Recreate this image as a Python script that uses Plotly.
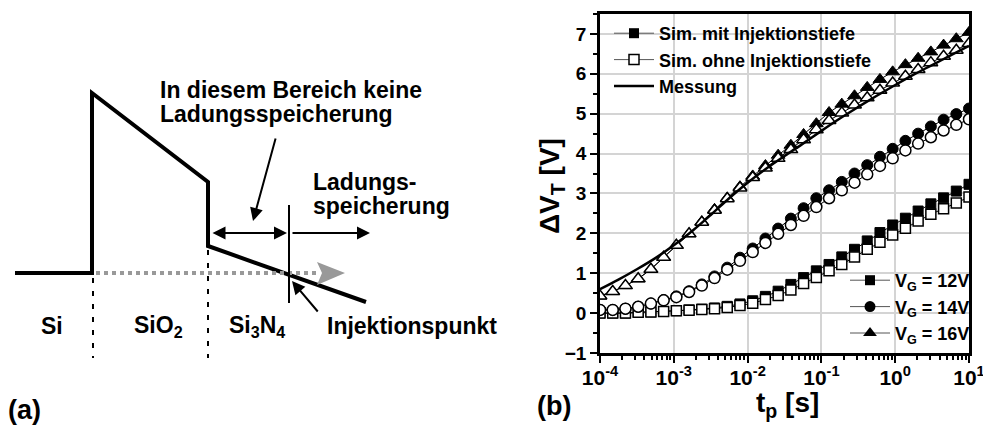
import plotly.graph_objects as go

# ---------------- data (right panel) ----------------
# programming times of the simulation samples [s]
t_sim = [1.000e-4, 1.487e-4, 2.212e-4, 3.291e-4, 4.895e-4, 7.280e-4,
         1.083e-3, 1.611e-3, 2.396e-3, 3.563e-3, 5.300e-3, 7.884e-3,
         1.173e-2, 1.744e-2, 2.594e-2, 3.859e-2, 5.739e-2, 8.537e-2,
         0.1270, 0.1889, 0.2809, 0.4178, 0.6215, 0.9244,
         1.375, 2.045, 3.042, 4.525, 6.730, 10.0]

# threshold voltage shift [V], simulation with / without injection depth
dvt_12_mit = [0.00, 0.00, 0.00, 0.02, 0.03, 0.04, 0.06, 0.08, 0.10, 0.13,
              0.17, 0.23, 0.31, 0.42, 0.55, 0.72, 0.89, 1.06, 1.22, 1.41,
              1.60, 1.81, 2.02, 2.21, 2.38, 2.56, 2.74, 2.89, 3.06, 3.23]
dvt_12_ohne = [0.00, 0.00, 0.00, 0.02, 0.03, 0.04, 0.06, 0.07, 0.09, 0.11,
               0.14, 0.19, 0.25, 0.34, 0.44, 0.58, 0.74, 0.89, 1.06, 1.22,
               1.41, 1.60, 1.78, 1.96, 2.13, 2.31, 2.48, 2.62, 2.76, 2.91]
dvt_14_mit = [0.08, 0.08, 0.11, 0.16, 0.24, 0.33, 0.42, 0.55, 0.72, 0.92,
              1.14, 1.39, 1.62, 1.87, 2.12, 2.37, 2.63, 2.88, 3.08, 3.29,
              3.50, 3.71, 3.92, 4.12, 4.32, 4.50, 4.68, 4.85, 4.99, 5.13]
dvt_14_ohne = [0.08, 0.08, 0.11, 0.16, 0.24, 0.32, 0.40, 0.53, 0.69, 0.88,
               1.09, 1.31, 1.53, 1.76, 1.99, 2.21, 2.44, 2.66, 2.88, 3.08,
               3.27, 3.48, 3.69, 3.88, 4.08, 4.25, 4.41, 4.58, 4.72, 4.86]
dvt_16_mit = [0.43, 0.54, 0.69, 0.86, 1.10, 1.40, 1.70, 1.99, 2.29, 2.60,
              2.89, 3.17, 3.44, 3.70, 3.96, 4.21, 4.48, 4.75, 5.03, 5.24,
              5.45, 5.66, 5.86, 6.05, 6.23, 6.39, 6.55, 6.72, 6.88, 7.04]
dvt_16_ohne = [0.43, 0.54, 0.69, 0.86, 1.10, 1.40, 1.70, 1.99, 2.28, 2.58,
               2.87, 3.14, 3.40, 3.64, 3.88, 4.10, 4.35, 4.60, 4.83, 5.02,
               5.22, 5.40, 5.59, 5.77, 5.94, 6.11, 6.28, 6.44, 6.59, 6.76]

# measurement at V_G = 16 V
t_mess = [1.000e-4, 1.778e-4, 3.162e-4, 5.623e-4, 1.000e-3, 1.778e-3,
          3.162e-3, 5.623e-3, 1.000e-2, 1.778e-2, 3.162e-2, 5.623e-2,
          0.1000, 0.1778, 0.3162, 0.5623, 1.000, 1.778, 3.162, 5.623, 10.0]
dvt_mess = [0.60, 0.84, 1.10, 1.38, 1.70, 2.06, 2.46, 2.88, 3.27, 3.62,
            3.94, 4.25, 4.57, 4.88, 5.17, 5.45, 5.72, 5.98, 6.22, 6.46, 6.70]

x_tick_exp = [-4, -3, -2, -1, 0, 1]
y_ticks = [-1, 0, 1, 2, 3, 4, 5, 6, 7]

legend_sim = ["Sim. mit Injektionstiefe", "Sim. ohne Injektionstiefe", "Messung"]
legend_vg = ["V<sub>G</sub> = 12V", "V<sub>G</sub> = 14V", "V<sub>G</sub> = 16V"]

# ---------------- layout helpers ----------------
W, H = 983, 427
FONT = "Arial, Liberation Sans, sans-serif"


def px(x):
    return x / W


def py(y):
    return 1 - y / H


PLOT_L, PLOT_R, PLOT_T, PLOT_B = 600, 969, 14, 353

fig = go.Figure()

series = [
    ("square", dvt_12_mit, dvt_12_ohne, 10),
    ("circle", dvt_14_mit, dvt_14_ohne, 11),
    ("triangle-up", dvt_16_mit, dvt_16_ohne, 12),
]
for sym, mit, ohne, size in series:
    fig.add_trace(go.Scatter(
        x=t_sim, y=mit, mode="lines+markers", showlegend=False,
        line=dict(color="black", width=1),
        marker=dict(symbol=sym, size=size, color="black",
                    line=dict(color="black", width=1))))
    fig.add_trace(go.Scatter(
        x=t_sim, y=ohne, mode="lines+markers", showlegend=False,
        line=dict(color="black", width=1),
        marker=dict(symbol=sym, size=size, color="white",
                    line=dict(color="black", width=1.5))))

fig.add_trace(go.Scatter(
    x=t_mess, y=dvt_mess, mode="lines", showlegend=False,
    line=dict(color="black", width=2.5, shape="spline")))

# legend entries (upper legend: simulation type, lower legend: gate voltage)
fig.add_trace(go.Scatter(x=[None], y=[None], mode="lines+markers", name=legend_sim[0],
                         legend="legend",
                         line=dict(color="#555555", width=1),
                         marker=dict(symbol="square", size=10, color="black")))
fig.add_trace(go.Scatter(x=[None], y=[None], mode="lines+markers", name=legend_sim[1],
                         legend="legend",
                         line=dict(color="#555555", width=1),
                         marker=dict(symbol="square", size=10, color="white",
                                     line=dict(color="black", width=1.5))))
fig.add_trace(go.Scatter(x=[None], y=[None], mode="lines", name=legend_sim[2],
                         legend="legend", line=dict(color="black", width=2.5)))
for sym, name, size in zip(["square", "circle", "triangle-up"], legend_vg, [10, 11, 12]):
    fig.add_trace(go.Scatter(x=[None], y=[None], mode="lines+markers", name=name,
                             legend="legend2",
                             line=dict(color="#555555", width=1),
                             marker=dict(symbol=sym, size=size, color="black")))

axis_common = dict(showline=True, linecolor="black", linewidth=2.5, mirror=True,
                   ticks="outside", tickwidth=2, tickcolor="black",
                   showgrid=True, gridcolor="#d4d4d4", gridwidth=1.5,
                   zeroline=False, automargin=False, ticklabeloverflow="allow")

fig.update_layout(
    width=W, height=H,
    margin=dict(l=0, r=0, t=0, b=0, autoexpand=False),
    paper_bgcolor="white", plot_bgcolor="white",
    font=dict(family=FONT, color="black"),
    showlegend=True,
    xaxis=dict(type="log", range=[-4, 1], domain=[px(PLOT_L), px(PLOT_R)],
               tickvals=[10 ** e for e in x_tick_exp],
               ticktext=["10<sup>%d</sup>" % e for e in x_tick_exp],
               ticklen=7, ticklabelstandoff=-3,
               tickfont=dict(size=21, weight="bold", family=FONT),
               minor=dict(ticks="outside", ticklen=4, tickwidth=1.5,
                          tickcolor="black", showgrid=False, dtick="D1"),
               **axis_common),
    yaxis=dict(range=[-1, 7.5], domain=[py(PLOT_B), py(PLOT_T)],
               tickvals=y_ticks, ticklen=7,
               tickfont=dict(size=19, weight="bold", family=FONT),
               minor=dict(ticks="outside", ticklen=4, tickwidth=1.5,
                          tickcolor="black", showgrid=False, dtick=0.5),
               **axis_common),
    legend=dict(x=px(609), y=py(15), xanchor="left", yanchor="top",
                bgcolor="rgba(0,0,0,0)", borderwidth=0,
                font=dict(size=18, weight="bold", family=FONT),
                itemwidth=40, tracegroupgap=0),
    legend2=dict(x=px(845), y=py(262), xanchor="left", yanchor="top",
                 bgcolor="rgba(0,0,0,0)", borderwidth=0,
                 font=dict(size=18, weight="bold", family=FONT),
                 itemwidth=40, tracegroupgap=0),
)

annotations = []
shapes = []


def label(x, y, text, size, xanchor="left", angle=0):
    return dict(x=px(x), y=py(y), xref="paper", yref="paper", text=text,
                showarrow=False, xanchor=xanchor, yanchor="middle", textangle=angle,
                font=dict(size=size, weight="bold", family=FONT))


# axis titles
annotations.append(label(551, 186, "ΔV<sub>T</sub> [V]", 28, xanchor="center", angle=-90))
annotations.append(label(787, 404, "t<sub>p</sub> [s]", 28, xanchor="center"))

# panel labels
annotations.append(label(6, 410, "(a)", 27))
annotations.append(label(535, 406, "(b)", 27))

# ---------------- left panel: band diagram ----------------
band = [(15, 273), (92, 273), (92, 93), (208, 182), (208, 246), (366, 302)]
shapes.append(dict(type="path", xref="paper", yref="paper",
                   path="M " + " L ".join("%.5f,%.5f" % (px(x), py(y)) for x, y in band),
                   line=dict(color="black", width=4)))

# injection level (dotted grey) with arrow tip
shapes.append(dict(type="line", xref="paper", yref="paper",
                   x0=px(96), y0=py(273), x1=px(318), y1=py(273),
                   line=dict(color="#999999", width=4, dash="4px,4px")))
tip = [(317, 262), (345, 273), (317, 285), (322, 273)]
shapes.append(dict(type="path", xref="paper", yref="paper",
                   path="M " + " L ".join("%.5f,%.5f" % (px(x), py(y)) for x, y in tip) + " Z",
                   fillcolor="#999999", line=dict(color="#999999", width=0)))

# layer interfaces
for xi, y0 in [(93, 278), (208, 250)]:
    shapes.append(dict(type="line", xref="paper", yref="paper",
                       x0=px(xi), y0=py(y0), x1=px(xi), y1=py(358),
                       line=dict(color="black", width=2, dash="5px,8px")))

# injection point marker line
shapes.append(dict(type="line", xref="paper", yref="paper",
                   x0=px(289), y0=py(205), x1=px(289), y1=py(303),
                   line=dict(color="black", width=2)))


def arrow(x_head, y_head, x_tail, y_tail, both=False):
    return dict(x=px(x_head), y=py(y_head), xref="paper", yref="paper",
                ax=x_tail - x_head, ay=y_tail - y_head, axref="pixel", ayref="pixel",
                text="", showarrow=True, arrowhead=2, arrowsize=1.3, arrowwidth=2,
                arrowcolor="black", arrowside="end+start" if both else "end")


annotations.append(arrow(287, 233, 211, 233, both=True))
annotations.append(arrow(370, 233, 291, 233))
annotations.append(arrow(253, 221, 276, 137))
annotations.append(arrow(292, 281, 319, 313))

labels_a = [
    (158, 90, "In diesem Bereich keine"),
    (158, 114, "Ladungsspeicherung"),
    (311, 182, "Ladungs-"),
    (311, 206, "speicherung"),
    (39, 326, "Si"),
    (132, 326, "SiO<sub>2</sub>"),
    (227, 326, "Si<sub>3</sub>N<sub>4</sub>"),
    (325, 326, "Injektionspunkt"),
]
for x, y, s in labels_a:
    annotations.append(label(x, y, s, 23))

fig.update_layout(annotations=annotations, shapes=shapes)

fig.write_html("out.html")
